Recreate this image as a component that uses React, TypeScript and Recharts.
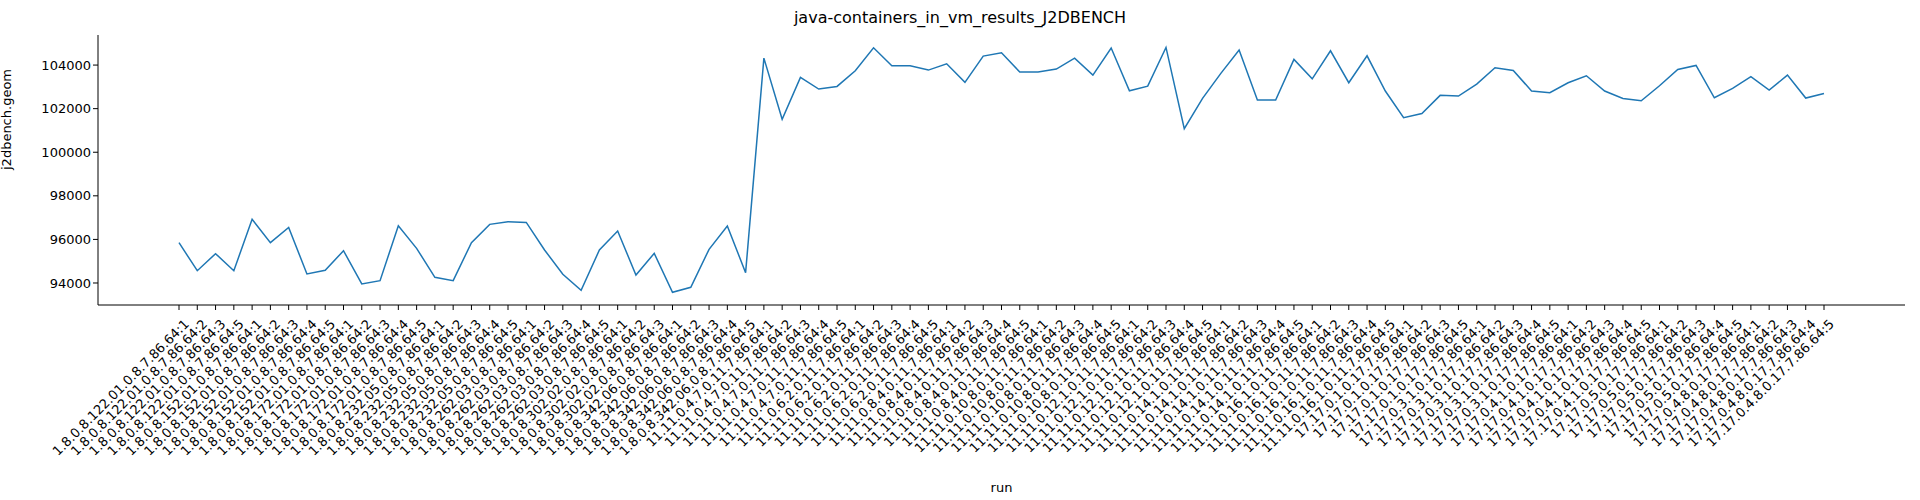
import React from "react";
import { LineChart, Line, XAxis, YAxis, Label } from "recharts";

// java 8 runs
const j8Versions = [
  "1.8.0.8.122.01", "1.8.0.8.152.01", "1.8.0.8.172.01", "1.8.0.8.232.05",
  "1.8.0.8.262.03", "1.8.0.8.302.02", "1.8.0.8.342.06",
];
const j8Runs = [[1, 2, 3, 5], [1, 2, 3, 4, 5], [1, 2, 3, 4, 5], [1, 2, 3, 4, 5], [1, 2, 3, 4, 5], [1, 2, 3], [1, 2, 3, 4, 5]];

// java 11 / 17 runs
const j11Versions = [
  "11.11.0.4.7.0.11", "11.11.0.6.2.0.11", "11.11.0.8.4.0.11", "11.11.0.10.8.0.11",
  "11.11.0.12.1.0.11", "11.11.0.14.1.0.11", "11.11.0.16.1.0.11",
];
const j17Versions = [
  "17.17.0.1.0.17", "17.17.0.3.1.0.17", "17.17.0.4.1.0.17", "17.17.0.5.0.17", "17.17.0.4.8.0.17",
];
const j17Runs = [[1, 2, 3, 5], [1, 2, 3, 4, 5], [1, 2, 3, 4, 5], [1, 2, 3, 4, 5], [1, 2, 3, 4, 5]];

const geom = [
  95850, 94565, 95345, 94565, 96920, 95850, 96550, 94413, 94580, 95480,
  93955, 94107, 96630, 95590, 94260, 94107, 95850, 96690, 96810, 96780,
  95515, 94400, 93665, 95515, 96385, 94367, 95360, 93573, 93803, 95545,
  96615, 94474,
  104320, 101510, 103435, 102900, 103020, 103740, 104795, 103970, 103970, 103770,
  104060, 103205, 104413, 104565, 103680, 103680, 103815, 104320, 103540, 104780,
  102820, 103035, 104810, 101080, 102470, 103620, 104690, 102395, 102395, 104260,
  103370, 104655, 103190, 104425, 102810, 101585, 101780, 102610, 102577, 103127,
  103877, 103755, 102810, 102730, 103190, 103510, 102810, 102470, 102360, 103050,
  103800, 103985, 102500, 102930, 103465, 102850, 103540, 102485, 102700,
];

const yTicks = [94000, 96000, 98000, 100000, 102000, 104000];

const runs: string[] = [];
j8Versions.forEach((v, i) => j8Runs[i].forEach((r) => runs.push(`${v}.0.8.7.86.64:${r}`)));
j11Versions.forEach((v) => [1, 2, 3, 4, 5].forEach((r) => runs.push(`${v}.7.86.64:${r}`)));
j17Versions.forEach((v, i) => j17Runs[i].forEach((r) => runs.push(`${v}.7.86.64:${r}`)));

const data = geom.map((g, i) => ({ run: runs[i] || `run:${i}`, geom: g }));

const font = "DejaVu Sans, sans-serif";

const RunTick = (props: any) => {
  const { x, y, payload } = props;
  return (
    <text
      x={x + 4}
      y={y + 6}
      transform={`rotate(-45 ${x + 4} ${y + 6})`}
      textAnchor="end"
      dominantBaseline="hanging"
      fontSize={13}
      fontFamily={font}
      fill="#000"
    >
      {payload.value}
    </text>
  );
};

export default function App() {
  return (
    <div style={{ position: "absolute", left: 0, top: 0, background: "#fff" }}>
      <div
        style={{
          position: "absolute", top: 8, width: 1920, textAlign: "center",
          fontFamily: font, fontSize: 16,
        }}
      >
        java-containers_in_vm_results_J2DBENCH
      </div>
      <LineChart
        width={1920}
        height={500}
        data={data}
        margin={{ top: 35, right: 15, bottom: 0, left: 0 }}
      >
        <XAxis
          dataKey="run"
          interval={0}
          padding={{ left: 81, right: 81 }}
          height={195}
          tickSize={5}
          tick={<RunTick />}
          stroke="#000"
        >
          <Label value="run" position="insideBottom" offset={8} fill="#000" fontSize={13} fontFamily={font} />
        </XAxis>
        <XAxis xAxisId="top" orientation="top" dataKey="run" tick={false} tickLine={false} height={0} stroke="#000" />
        <YAxis
          domain={[92990, 105380]}
          ticks={yTicks}
          width={98}
          tickSize={5}
          stroke="#000"
          tick={{ fill: "#000", fontSize: 13, fontFamily: font }}
        >
          <Label value="j2dbench.geom" angle={-90} position="insideLeft" offset={6} fill="#000" fontSize={13} fontFamily={font} />
        </YAxis>
        <YAxis yAxisId="right" orientation="right" tick={false} tickLine={false} width={0} stroke="#000" />
        <Line
          dataKey="geom"
          stroke="#1f77b4"
          strokeWidth={1.5}
          dot={false}
          isAnimationActive={false}
        />
      </LineChart>
    </div>
  );
}
